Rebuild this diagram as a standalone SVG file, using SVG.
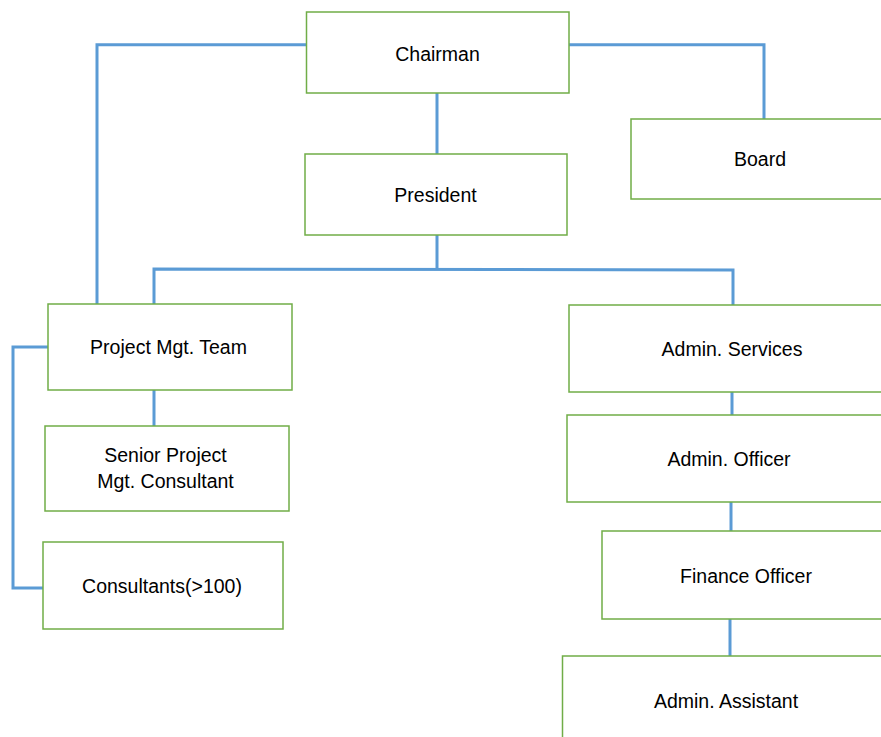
<svg xmlns="http://www.w3.org/2000/svg" width="881" height="737" viewBox="0 0 881 737">
<style>
.box{fill:#ffffff;stroke:#70AD47;stroke-width:1.5}
.lbl{font-family:"Liberation Sans",Arial,sans-serif;font-size:19.5px;fill:#000;text-anchor:middle}
.con{fill:none;stroke:#5B9BD5;stroke-width:3;stroke-linejoin:miter}
</style>
<rect width="881" height="737" fill="#ffffff"/>
<g id="connectors">
<polyline class="con" points="306,44.7 97,44.7 97,304"/>
<polyline class="con" points="569,44.7 764,44.7 764,119"/>
<line class="con" x1="437" y1="93" x2="437" y2="154"/>
<line class="con" x1="437" y1="235" x2="437" y2="270"/>
<polyline class="con" points="154,304 154,269 733,270 733,305"/>
<polyline class="con" points="48,347 13,347 13,588 43,588"/>
<line class="con" x1="154" y1="390" x2="154" y2="426"/>
<line class="con" x1="732" y1="392" x2="732" y2="415"/>
<line class="con" x1="731" y1="502" x2="731" y2="531"/>
<line class="con" x1="730" y1="619" x2="730" y2="656"/>
</g>
<g id="chairman"><rect class="box" x="306.5" y="12" width="262.5" height="81"/><text class="lbl" x="437.5" y="61">Chairman</text></g>
<g id="president"><rect class="box" x="305" y="154" width="262" height="81"/><text class="lbl" x="435.5" y="202">President</text></g>
<g id="board"><rect class="box" x="631" y="119" width="270" height="80"/><text class="lbl" x="760" y="166">Board</text></g>
<g id="project-mgt-team"><rect class="box" x="48" y="304" width="244" height="86"/><text class="lbl" x="168.5" y="354">Project Mgt. Team</text></g>
<g id="senior-project-mgt-consultant"><rect class="box" x="45" y="426" width="244" height="85"/><text class="lbl" x="165.5" y="461.5">Senior Project</text><text class="lbl" x="165.5" y="488">Mgt. Consultant</text></g>
<g id="consultants"><rect class="box" x="43" y="542" width="240" height="87"/><text class="lbl" x="162" y="593">Consultants(&gt;100)</text></g>
<g id="admin-services"><rect class="box" x="569" y="305" width="330" height="87"/><text class="lbl" x="732" y="356">Admin. Services</text></g>
<g id="admin-officer"><rect class="box" x="567" y="415" width="332" height="87"/><text class="lbl" x="729" y="466">Admin. Officer</text></g>
<g id="finance-officer"><rect class="box" x="602" y="531" width="297" height="88"/><text class="lbl" x="746" y="582.5">Finance Officer</text></g>
<g id="admin-assistant"><rect class="box" x="562.5" y="656" width="337" height="100"/><text class="lbl" x="726" y="707.5">Admin. Assistant</text></g>
</svg>
